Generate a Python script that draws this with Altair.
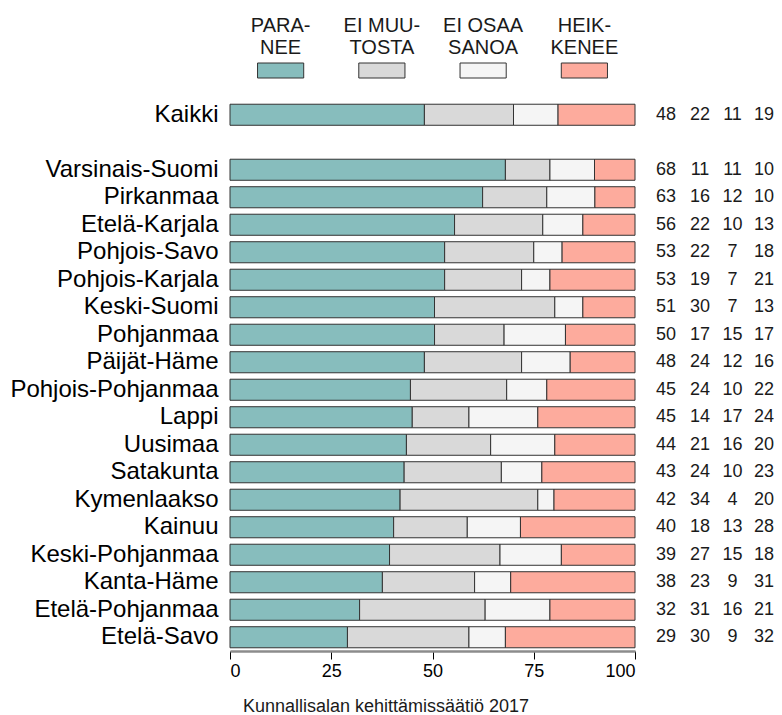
import altair as alt
import pandas as pd

regions = ["Kaikki", "Varsinais-Suomi", "Pirkanmaa", "Etelä-Karjala", "Pohjois-Savo",
           "Pohjois-Karjala", "Keski-Suomi", "Pohjanmaa", "Päijät-Häme", "Pohjois-Pohjanmaa",
           "Lappi", "Uusimaa", "Satakunta", "Kymenlaakso", "Kainuu", "Keski-Pohjanmaa",
           "Kanta-Häme", "Etelä-Pohjanmaa", "Etelä-Savo"]
paranee = [48, 68, 63, 56, 53, 53, 51, 50, 48, 45, 45, 44, 43, 42, 40, 39, 38, 32, 29]
ei_muutosta = [22, 11, 16, 22, 22, 19, 30, 17, 24, 24, 14, 21, 24, 34, 18, 27, 23, 31, 30]
ei_osaa_sanoa = [11, 11, 12, 10, 7, 7, 7, 15, 12, 10, 17, 16, 10, 4, 13, 15, 9, 16, 9]
heikkenee = [19, 10, 10, 13, 18, 21, 13, 17, 16, 22, 24, 20, 23, 20, 28, 18, 31, 21, 32]

categories = ["Paranee", "Ei muutosta", "Ei osaa sanoa", "Heikkenee"]
legend_line1 = ["PARA-", "EI MUU-", "EI OSAA", "HEIK-"]
legend_line2 = ["NEE", "TOSTA", "SANOA", "KENEE"]
colors = ["#87BDBD", "#D9D9D9", "#F5F5F5", "#FDAB9D"]
tick_values = [0, 0.25, 0.5, 0.75, 1]
footer = "Kunnallisalan kehittämissäätiö 2017"

FONT = "Liberation Sans"
series = [paranee, ei_muutosta, ei_osaa_sanoa, heikkenee]
rows = []
for ci, (cat, vals) in enumerate(zip(categories, series)):
    for r, v in zip(regions, vals):
        rows.append({"region": r, "category": cat, "value": v, "order": ci})
df = pd.DataFrame(rows)

legend_df = pd.DataFrame({"category": categories, "l1": legend_line1, "l2": legend_line2,
                          "idx": list(range(len(categories)))})

y_domain = [regions[0], " "] + regions[1:]
y_enc = alt.Y("region:N",
              scale=alt.Scale(domain=y_domain, paddingInner=0.235, paddingOuter=0.1175),
              axis=alt.Axis(title=None, domain=False, ticks=False, labelFontSize=24,
                            labelFont=FONT, labelColor="black", labelPadding=12,
                            labelLimit=400))
x_scale = alt.Scale(domain=[0, 1], nice=False)
x_axis = alt.Axis(values=tick_values, labelExpr="format(datum.value*100, 'd')", title=None,
                  grid=False, domainColor="#8c8c8c", domainWidth=2.5, tickColor="black",
                  tickSize=8, tickWidth=1, labelFontSize=18, labelPadding=3,
                  labelColor="black", labelFont=FONT)
color_enc = alt.Color("category:N", scale=alt.Scale(domain=categories, range=colors), legend=None)

bars = alt.Chart(df).mark_bar(stroke="#333333", strokeWidth=1).encode(
    x=alt.X("value:Q", stack="normalize", scale=x_scale, axis=x_axis),
    y=y_enc,
    color=color_enc,
    order=alt.Order("order:Q"),
)

col_x = [436, 470, 502.5, 534]
texts = []
for cat, cx in zip(categories, col_x):
    texts.append(
        alt.Chart(df).transform_filter(alt.datum.category == cat)
        .mark_text(align="center", baseline="middle", fontSize=18, font=FONT, color="#1a1a1a")
        .encode(x=alt.value(cx), y=y_enc, text="value:Q")
    )

leg_base = alt.Chart(legend_df).transform_calculate(
    cx="(datum.idx + 0.5) / 4", x0="(datum.idx + 0.5) / 4 - 0.057", x1="(datum.idx + 0.5) / 4 + 0.057"
)
leg_boxes = leg_base.mark_rect(stroke="#333333", strokeWidth=1).encode(
    x=alt.X("x0:Q", scale=x_scale, axis=x_axis), x2="x1:Q",
    y=alt.value(-38), y2=alt.value(-23),
    color=color_enc,
)
LEG_FONT = "Liberation Sans Narrow, Liberation Sans"
leg_t1 = leg_base.mark_text(align="center", baseline="middle", fontSize=20,
                            font=LEG_FONT, color="#1a1a1a").encode(
    x=alt.X("cx:Q", scale=x_scale, axis=x_axis), y=alt.value(-75), text="l1:N")
leg_t2 = leg_base.mark_text(align="center", baseline="middle", fontSize=20,
                            font=LEG_FONT, color="#1a1a1a").encode(
    x=alt.X("cx:Q", scale=x_scale, axis=x_axis), y=alt.value(-53), text="l2:N")

foot = alt.Chart(pd.DataFrame({"t": [footer]})).mark_text(
    align="center", baseline="alphabetic", fontSize=18, font=FONT, color="#1a1a1a"
).encode(x=alt.value(156), y=alt.value(611), text="t:N")

chart = alt.layer(bars, *texts, leg_boxes, leg_t1, leg_t2, foot).properties(
    width=405, height=550,
    padding={"left": 222, "top": 93, "right": 139, "bottom": 66},
    autosize=alt.AutoSizeParams(type="none"),
).configure_view(stroke=None)

chart.save("out.html", embed_options={"renderer": "svg", "actions": False})
